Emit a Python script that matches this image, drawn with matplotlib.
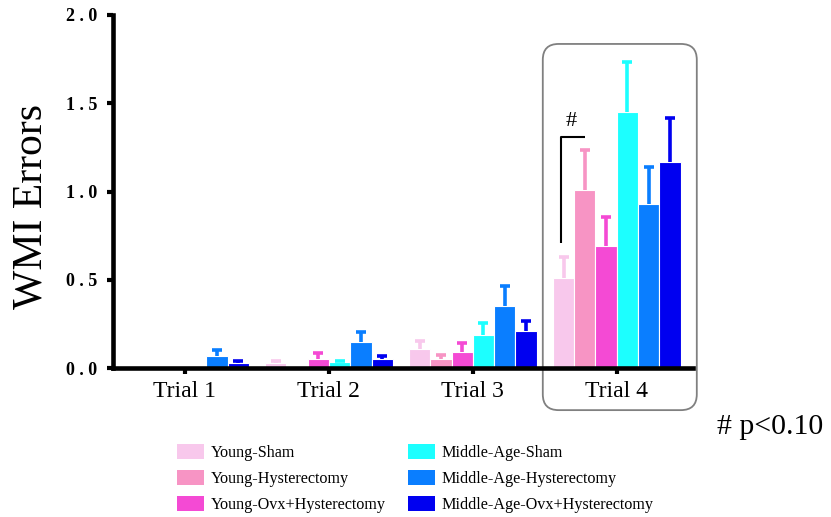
import numpy as np
import matplotlib
matplotlib.use("Agg")
import matplotlib.pyplot as plt
from matplotlib.patches import FancyBboxPatch, Patch

plt.rcParams["font.family"] = ["Liberation Serif", "DejaVu Serif"]

trials = ["Trial 1", "Trial 2", "Trial 3", "Trial 4"]
groups = [
    "Young-Sham",
    "Young-Hysterectomy",
    "Young-Ovx+Hysterectomy",
    "Middle-Age-Sham",
    "Middle-Age-Hysterectomy",
    "Middle-Age-Ovx+Hysterectomy",
]
colors = ["#F8C8EC", "#F794C4", "#F44AD4", "#1CFFFF", "#0A7EFF", "#0000F0"]

# mean WMI errors per group, one entry per trial
means = [
    [0.00, 0.03, 0.11, 0.51],
    [0.00, 0.00, 0.05, 1.01],
    [0.00, 0.05, 0.09, 0.69],
    [0.00, 0.035, 0.19, 1.45],
    [0.07, 0.15, 0.35, 0.93],
    [0.03, 0.05, 0.21, 1.17],
]
# standard error (upper bar only)
sems = [
    [0.00, 0.01, 0.045, 0.12],
    [0.00, 0.00, 0.025, 0.225],
    [0.00, 0.035, 0.05, 0.165],
    [0.00, 0.005, 0.065, 0.285],
    [0.035, 0.055, 0.115, 0.21],
    [0.01, 0.02, 0.055, 0.245],
]

yticks = [0.0, 0.5, 1.0, 1.5, 2.0]
ytick_labels = [" . ".join(f"{v:.1f}".split(".")) for v in yticks]

fig = plt.figure(figsize=(8.31, 5.17), dpi=100)
ax = fig.add_axes([0.136, 0.288, 0.698, 0.683])

x = np.arange(len(trials))
width = 0.148
offsets = (np.arange(len(groups)) - 2.5) * width

for i, (name, col) in enumerate(zip(groups, colors)):
    m = np.array(means[i])
    s = np.array(sems[i])
    pos = x + offsets[i]
    ax.bar(pos, m, width=width, color=col, edgecolor="white", linewidth=0.8,
           zorder=2)
    keep = m > 0
    _, caps, _ = ax.errorbar(pos[keep], m[keep],
                             yerr=[np.zeros(keep.sum()), s[keep]],
                             fmt="none", ecolor=col, elinewidth=2.6,
                             capsize=3.6, capthick=2.6, zorder=2)
    # only the upper cap is shown
    caps[0].set_visible(False)

ax.set_xlim(-0.5, 3.53)
ax.set_ylim(0, 2.0)
ax.set_yticks(yticks)
ax.set_yticklabels(ytick_labels, fontweight="bold", fontsize=13)
ax.set_xticks(x)
ax.set_xticklabels(trials, fontsize=17)
ax.tick_params(axis="y", length=4.5, width=3, pad=7)
ax.tick_params(axis="x", length=4.5, width=3, pad=5)
for side in ["top", "right"]:
    ax.spines[side].set_visible(False)
for side in ["left", "bottom"]:
    ax.spines[side].set_linewidth(3.3)
    ax.spines[side].set_zorder(3)
ax.set_ylabel("WMI Errors", fontsize=30)
ax.yaxis.set_label_coords(-0.107, 0.459)

# rounded frame around the last trial
px_x = 1 / 144.0
px_y = 1 / 176.5
box = FancyBboxPatch((2.486, -0.238), 1.07, 2.074,
                     boxstyle="round,pad=0,rounding_size=0.11",
                     mutation_aspect=px_y / px_x,
                     facecolor="none", edgecolor="#808080", linewidth=1.3,
                     clip_on=False, zorder=1)
ax.add_patch(box)

# significance bracket between young sham and young hysterectomy, trial 4
xa = x[3] + offsets[0] - 0.02
xb = x[3] + offsets[1]
y_low = means[0][3] + sems[0][3] + 0.08
y_high = means[1][3] + sems[1][3] + 0.075
ax.plot([xa, xa, xb], [y_low, y_high, y_high], color="black", lw=1.5,
        solid_capstyle="butt", zorder=3)
ax.text((xa + xb) / 2 - 0.01, y_high + 0.035, "#", ha="center", va="bottom",
        fontsize=16)

fig.text(717 / 831, 1 - 427 / 517, "# p<0.10", ha="left", va="center",
         fontsize=21.5)

handles = [Patch(facecolor=c, edgecolor="none") for c in colors]
fig.legend(handles, groups, ncol=2, loc="upper left",
           bbox_to_anchor=(177 / 831, 1 - 444 / 517), frameon=False,
           fontsize=11.6, handlelength=1.7, handleheight=1.07,
           handletextpad=0.4, columnspacing=1.35, labelspacing=0.55,
           borderpad=0, borderaxespad=0)

fig.savefig("out.png", dpi=100)
